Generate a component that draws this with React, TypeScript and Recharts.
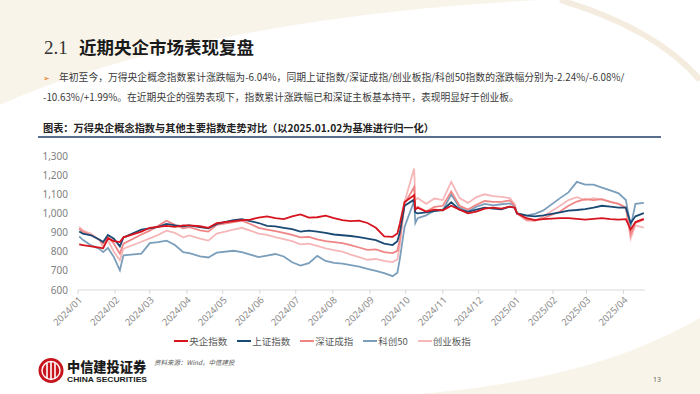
import React from 'react';
import { LineChart, Line, XAxis, YAxis, Legend } from 'recharts';

// weekly closes (plus a few key days), normalised so that 2025-01-02 = 1000
const dates = [
  '2024-01-02', '2024-01-05', '2024-01-12', '2024-01-19', '2024-01-22', '2024-01-26', '2024-01-31',
  '2024-02-05', '2024-02-08', '2024-02-23',
  '2024-03-01', '2024-03-08', '2024-03-15', '2024-03-22', '2024-03-29',
  '2024-04-03', '2024-04-12', '2024-04-19', '2024-04-26',
  '2024-05-10', '2024-05-17', '2024-05-24', '2024-05-31',
  '2024-06-07', '2024-06-14', '2024-06-21', '2024-06-28',
  '2024-07-05', '2024-07-12', '2024-07-19', '2024-07-26',
  '2024-08-02', '2024-08-09', '2024-08-16', '2024-08-23', '2024-08-30',
  '2024-09-06', '2024-09-13', '2024-09-20', '2024-09-24', '2024-09-26', '2024-09-30',
  '2024-10-08', '2024-10-09', '2024-10-11', '2024-10-18', '2024-10-25',
  '2024-11-01', '2024-11-08', '2024-11-15', '2024-11-22', '2024-11-29',
  '2024-12-06', '2024-12-13', '2024-12-20', '2024-12-27', '2024-12-31',
  '2025-01-02', '2025-01-10', '2025-01-17', '2025-01-24',
  '2025-02-07', '2025-02-14', '2025-02-21', '2025-02-28',
  '2025-03-07', '2025-03-14', '2025-03-21', '2025-03-28',
  '2025-04-03', '2025-04-07', '2025-04-11', '2025-04-18',
];

const yangqi = [
  838, 835, 828, 821, 818, 870, 855, 850, 875, 905,
  925, 930, 935, 930, 938, 938, 933, 925, 950,
  960, 965, 968, 978, 985, 975, 970, 985,
  995, 978, 980, 988, 975, 965, 960, 962, 950,
  925, 880, 878, 895, 945, 1060, 1095, 1020, 1030, 1010, 1020,
  1016, 1040, 1020, 1000, 1010, 1025, 1030, 1025, 1035, 1030,
  1000, 975, 965, 970, 975, 975, 972, 968, 972, 975, 970, 968,
  970, 915, 955, 972,
];

const shangzheng = [
  906, 895, 886, 863, 851, 888, 868, 828, 875, 915,
  922, 930, 945, 938, 933, 938, 928, 922, 945,
  965, 970, 960, 950, 935, 932, 925, 918,
  905, 910, 905, 898, 890, 886, 882, 876, 868,
  860, 842, 835, 855, 900, 1040, 1072, 1005, 1000, 1005, 1012,
  1018, 1058, 1020, 1008, 1020, 1030, 1025, 1022, 1035, 1030,
  1000, 988, 985, 990, 1005, 1015, 1018, 1022, 1030, 1040, 1035, 1030,
  1030, 950, 985, 1002,
];

const shenzheng = [
  920, 905, 886, 863, 842, 878, 842, 790, 842, 890,
  910, 935, 962, 940, 922, 928, 912, 905, 940,
  955, 962, 945, 925, 915, 908, 898, 888,
  875, 877, 865, 855, 850, 845, 835, 822, 810,
  812, 798, 793, 805, 860, 1050, 1138, 1025, 1035, 1010, 1034,
  1040, 1115, 1040, 1020, 1045, 1065, 1060, 1060, 1068, 1040,
  1000, 968, 965, 975, 1010, 1040, 1062, 1075, 1070, 1075, 1060, 1050,
  1030, 890, 950, 968,
];

const kechuang = [
  880, 862, 833, 815, 798, 820, 772, 703, 781, 790,
  845, 850, 858, 835, 798, 793, 776, 770, 795,
  805, 798, 785, 772, 780, 788, 775, 745,
  728, 740, 778, 752, 742, 738, 730, 722, 710,
  700, 688, 672, 690, 760, 930, 1065, 950, 975, 990, 1016,
  1016, 1100, 1030, 1010, 1035, 1050, 1042, 1048, 1052, 1040,
  1000, 990, 998, 1016, 1080, 1110, 1165, 1150, 1150, 1135, 1120, 1105,
  1070, 930, 1050, 1055,
];

const chuangye = [
  929, 912, 894, 860, 825, 860, 800, 755, 816, 852,
  870, 888, 910, 898, 875, 885, 868, 858, 895,
  915, 925, 910, 895, 888, 876, 866, 855,
  838, 842, 830, 818, 808, 800, 785, 772, 758,
  762, 752, 746, 760, 830, 1060, 1235, 1070, 1080, 1050, 1078,
  1070, 1165, 1080, 1055, 1085, 1100, 1090, 1086, 1080, 1050,
  1000, 962, 960, 985, 1040, 1070, 1085, 1070, 1080, 1072, 1060, 1050,
  1030, 870, 938, 926,
];

const legendOrder = ['央企指数', '上证指数', '深证成指', '科创50', '创业板指'];

const monthTicks = [
  '2024-01-01', '2024-02-01', '2024-03-01', '2024-04-01', '2024-05-01', '2024-06-01',
  '2024-07-01', '2024-08-01', '2024-09-01', '2024-10-01', '2024-11-01', '2024-12-01',
  '2025-01-01', '2025-02-01', '2025-03-01', '2025-04-01',
];
const tickLabels = [
  '2024/01', '2024/02', '2024/03', '2024/04', '2024/05', '2024/06',
  '2024/07', '2024/08', '2024/09', '2024/10', '2024/11', '2024/12',
  '2025/01', '2025/02', '2025/03', '2025/04',
];
const yTicks = [600, 700, 800, 900, 1000, 1100, 1200, 1300];

const rows = dates.map((d, i) => ({
  t: Date.parse(d),
  yq: yangqi[i],
  sh: shangzheng[i],
  sz: shenzheng[i],
  kc: kechuang[i],
  cy: chuangye[i],
}));
const tickTimes = monthTicks.map((d) => Date.parse(d));

const CN = '"Noto Sans CJK SC", "Noto Sans", sans-serif';
const NUM = '"Noto Sans", "Open Sans", sans-serif';

function LegendBox(props: any) {
  const items = [...(props.payload || [])].sort(
    (a: any, b: any) => legendOrder.indexOf(a.value) - legendOrder.indexOf(b.value)
  );
  return (
    <div style={{ display: 'flex', justifyContent: 'center', gap: 10, fontFamily: CN, fontSize: 9.5, color: '#595959' }}>
      {items.map((it: any) => (
        <span key={it.value} style={{ display: 'flex', alignItems: 'center' }}>
          <span style={{ display: 'inline-block', width: 14, height: 2, background: it.color, marginRight: 1 }} />
          {it.value}
        </span>
      ))}
    </div>
  );
}

function Slide() {
  return (
    <svg width={700} height={394} style={{ position: 'absolute', left: 0, top: 0 }}>
      <defs>
        <linearGradient id="rule" x1="0" x2="1" y1="0" y2="0">
          <stop offset="0" stopColor="#8c8c8c" />
          <stop offset="1" stopColor="#c9c9c9" />
        </linearGradient>
      </defs>
      {/* faint decorative swooshes */}
      <path d="M0,105 C110,55 300,12 540,0 L0,0 Z" fill="#f8f1e4" opacity={0.8} />
      <path d="M560,0 C620,18 670,45 700,80" stroke="#ece0c9" strokeWidth={6} fill="none" opacity={0.6} />
      <path d="M420,394 C560,382 640,352 700,318 L700,394 Z" fill="#f8f1e4" opacity={0.8} />

      <text x={44} y={54} fontFamily='"Liberation Serif", serif' fontSize={19} fill="#333">2.1</text>
      <text x={79} y={54} fontFamily={CN} fontSize={17.5} fontWeight={700} fill="#1a1a1a">近期央企市场表现复盘</text>
      <line x1={38} x2={661} y1={58} y2={58} stroke="url(#rule)" strokeWidth={1} />

      <text x={43} y={80.5} fontFamily={CN} fontSize={8} fill="#e36c0a">➢</text>
      <text x={59} y={80.5} fontFamily={CN} fontSize={9.8} fill="#3a3a3a">
        年初至今，万得央企概念指数累计涨跌幅为-6.04%，同期上证指数/深证成指/创业板指/科创50指数的涨跌幅分别为-2.24%/-6.08%/
      </text>
      <text x={43} y={100.5} fontFamily={CN} fontSize={9.8} fill="#3a3a3a">
        -10.63%/+1.99%。在近期央企的强势表现下，指数累计涨跌幅已和深证主板基本持平，表现明显好于创业板。
      </text>

      <text x={43} y={131.5} fontFamily={CN} fontSize={10.2} fontWeight={700} fill="#222">
        图表：万得央企概念指数与其他主要指数走势对比（以2025.01.02为基准进行归一化）
      </text>
      <line x1={38} x2={661} y1={137} y2={137} stroke="#1f3f66" strokeWidth={1.5} />

      {/* footer */}
      <circle cx={51} cy={370.5} r={12.5} fill="#c8151d" />
      <circle cx={51} cy={370.5} r={9} fill="none" stroke="#fff" strokeWidth={1.4} />
      <line x1={47} x2={47} y1={363} y2={378} stroke="#fff" strokeWidth={1.6} />
      <line x1={51} x2={51} y1={361.5} y2={379.5} stroke="#fff" strokeWidth={1.6} />
      <line x1={55} x2={55} y1={363} y2={378} stroke="#fff" strokeWidth={1.6} />
      <text x={67} y={372} fontFamily={CN} fontSize={13.2} fontWeight={900} fill="#1a1a1a">中信建投证券</text>
      <text x={67} y={382} fontFamily='"Liberation Sans", sans-serif' fontSize={7.6} fontWeight={700} fill="#1a1a1a" textLength={80} lengthAdjust="spacingAndGlyphs">CHINA SECURITIES</text>
      <text x={154} y={365} fontFamily={CN} fontSize={6.5} fontStyle="italic" fill="#555">资料来源：Wind，中信建投</text>
      <text x={653} y={382} fontFamily={NUM} fontSize={7} fill="#666">13</text>
    </svg>
  );
}

export default function App() {
  return (
    <div style={{ position: 'absolute', left: 0, top: 0, width: 700, height: 394, background: '#fff', overflow: 'hidden' }}>
      <Slide />
      <div style={{ position: 'absolute', left: 0, top: 0 }}>
        <LineChart width={700} height={394} data={rows} margin={{ top: 156, right: 55, bottom: 0, left: 0 }}>
          <XAxis
            dataKey="t"
            type="number"
            domain={[Date.parse('2024-01-01'), Date.parse('2025-04-19')]}
            ticks={tickTimes}
            interval={0}
            tickFormatter={(v: number) => tickLabels[tickTimes.indexOf(v)] ?? ''}
            angle={-45}
            textAnchor="end"
            height={104}
            tickSize={4}
            tickMargin={2}
            tick={{ fontSize: 9.5, fill: '#8a8a8a', fontFamily: NUM }}
            tickLine={{ stroke: '#d9d9d9' }}
            axisLine={{ stroke: '#d9d9d9' }}
          />
          <YAxis
            domain={[600, 1300]}
            ticks={yTicks}
            width={78}
            axisLine={false}
            tickLine={false}
            tickSize={0}
            tickMargin={10}
            tick={{ fontSize: 10, fill: '#7f7f7f', fontFamily: NUM }}
            tickFormatter={(v: number) => v.toLocaleString('en-US')}
          />
          <Legend layout="horizontal" verticalAlign="middle" align="center" wrapperStyle={{ top: 334 }} content={LegendBox} />
          <Line dataKey="kc" name="科创50" stroke="#7b9ebb" strokeWidth={1.8} dot={false} isAnimationActive={false} />
          <Line dataKey="cy" name="创业板指" stroke="#f6b7b9" strokeWidth={1.8} dot={false} isAnimationActive={false} />
          <Line dataKey="sz" name="深证成指" stroke="#ef8686" strokeWidth={1.8} dot={false} isAnimationActive={false} />
          <Line dataKey="sh" name="上证指数" stroke="#1a4a74" strokeWidth={1.8} dot={false} isAnimationActive={false} />
          <Line dataKey="yq" name="央企指数" stroke="#d7141e" strokeWidth={1.8} dot={false} isAnimationActive={false} />
        </LineChart>
      </div>
    </div>
  );
}
